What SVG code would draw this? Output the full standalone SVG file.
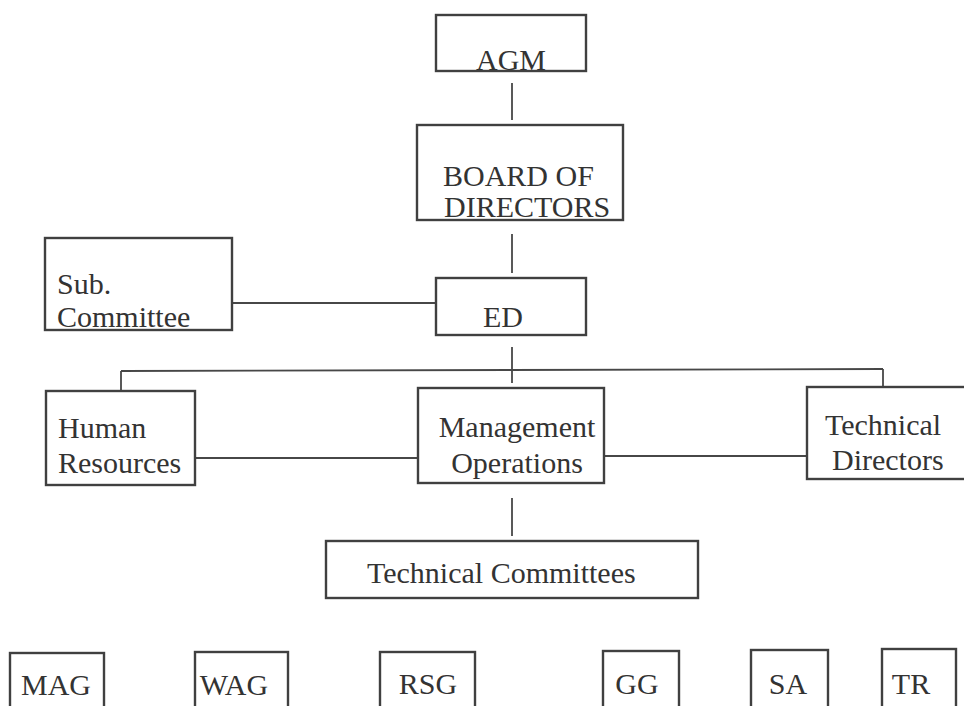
<svg xmlns="http://www.w3.org/2000/svg" width="964" height="706" viewBox="0 0 964 706">
  <style>
    .box { fill: #ffffff; stroke: #404040; stroke-width: 2.4; }
    .lbl { font-family: "Liberation Serif", "Times New Roman", serif; font-size: 30px; fill: #333333; }
    .mid { text-anchor: middle; }
    .conn line { stroke: #474747; stroke-width: 1.8; }
  </style>
  <rect width="964" height="706" fill="#ffffff"/>

  <!-- connectors -->
  <g id="connectors" class="conn">
    <line x1="512" y1="83" x2="512" y2="120"/>
    <line x1="512" y1="234" x2="512" y2="273"/>
    <line x1="232" y1="303" x2="437" y2="303"/>
    <line x1="512" y1="347" x2="512" y2="383"/>
    <line x1="121" y1="371" x2="883" y2="369"/>
    <line x1="121" y1="371" x2="121" y2="391"/>
    <line x1="883" y1="369" x2="883" y2="387"/>
    <line x1="195" y1="458" x2="418" y2="458"/>
    <line x1="604" y1="456" x2="807" y2="456"/>
    <line x1="512" y1="498" x2="512" y2="536"/>
  </g>

  <!-- top of hierarchy -->
  <g id="agm">
    <rect class="box" x="436" y="15" width="150" height="56"/>
    <text class="lbl mid" x="511" y="70">AGM</text>
  </g>
  <g id="board">
    <rect class="box" x="417" y="125" width="206" height="95"/>
    <text class="lbl" x="443" y="186">BOARD OF</text>
    <text class="lbl" x="444" y="217">DIRECTORS</text>
  </g>
  <g id="sub-committee">
    <rect class="box" x="45" y="238" width="187" height="92"/>
    <text class="lbl" x="57" y="294">Sub.</text>
    <text class="lbl" x="57" y="327">Committee</text>
  </g>
  <g id="ed">
    <rect class="box" x="436" y="278" width="150" height="57"/>
    <text class="lbl mid" x="503" y="327">ED</text>
  </g>

  <!-- departments -->
  <g id="human-resources">
    <rect class="box" x="46" y="391" width="149" height="94"/>
    <text class="lbl" x="58" y="438">Human</text>
    <text class="lbl" x="58" y="473">Resources</text>
  </g>
  <g id="management-operations">
    <rect class="box" x="418" y="388" width="186" height="95"/>
    <text class="lbl mid" x="517" y="437">Management</text>
    <text class="lbl mid" x="517" y="473">Operations</text>
  </g>
  <g id="technical-directors">
    <rect class="box" x="807" y="387" width="170" height="92"/>
    <text class="lbl" x="825" y="435">Technical</text>
    <text class="lbl" x="832" y="470">Directors</text>
  </g>
  <g id="technical-committees">
    <rect class="box" x="326" y="541" width="372" height="57"/>
    <text class="lbl" x="367" y="583">Technical Committees</text>
  </g>

  <!-- committee groups -->
  <g id="mag">
    <rect class="box" x="10" y="653" width="94" height="70"/>
    <text class="lbl mid" x="56" y="695">MAG</text>
  </g>
  <g id="wag">
    <rect class="box" x="195" y="652" width="93" height="70"/>
    <text class="lbl mid" x="234" y="695">WAG</text>
  </g>
  <g id="rsg">
    <rect class="box" x="380" y="652" width="95" height="70"/>
    <text class="lbl mid" x="428" y="694">RSG</text>
  </g>
  <g id="gg">
    <rect class="box" x="603" y="651" width="76" height="70"/>
    <text class="lbl mid" x="637" y="694">GG</text>
  </g>
  <g id="sa">
    <rect class="box" x="751" y="650" width="77" height="70"/>
    <text class="lbl mid" x="788" y="694">SA</text>
  </g>
  <g id="tr">
    <rect class="box" x="882" y="649" width="74" height="70"/>
    <text class="lbl mid" x="911" y="694">TR</text>
  </g>
</svg>
